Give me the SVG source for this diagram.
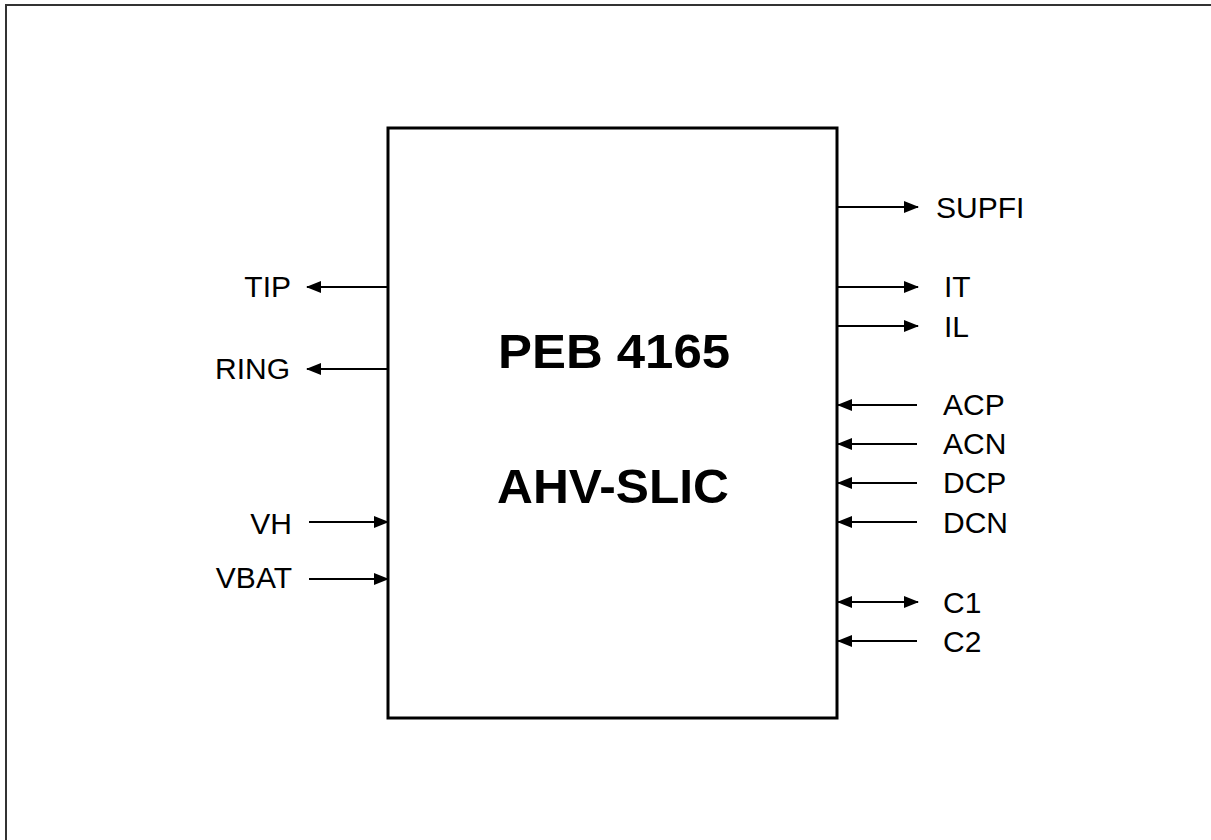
<svg xmlns="http://www.w3.org/2000/svg" width="1211" height="840" viewBox="0 0 1211 840">
<style>
.lbl{font-family:"Liberation Sans",Arial,sans-serif;font-size:30px;fill:#000}
.ttl{font-family:"Liberation Sans",Arial,sans-serif;font-size:48px;font-weight:bold;fill:#000}
.wire{stroke:#000;stroke-width:2;fill:none}
</style>
<defs>
<marker id="ah" markerWidth="15" markerHeight="12" refX="14" refY="6" orient="auto-start-reverse" markerUnits="userSpaceOnUse">
<path d="M0,0 L15,6 L0,12 Z" fill="#000"/>
</marker>
</defs>
<rect x="0" y="0" width="1211" height="840" fill="#fff"/>
<rect x="6" y="5" width="1215" height="850" fill="none" stroke="#333" stroke-width="2"/>
<g id="slic">
<rect x="388" y="128" width="449" height="590" fill="#fff" stroke="#000" stroke-width="3"/>
<text class="ttl" x="614" y="368" text-anchor="middle" textLength="232" lengthAdjust="spacingAndGlyphs">PEB 4165</text>
<text class="ttl" x="613" y="503" text-anchor="middle" textLength="232" lengthAdjust="spacingAndGlyphs">AHV-SLIC</text>
</g>
<g id="connectors">
<line class="wire" x1="388" y1="287" x2="307" y2="287" marker-end="url(#ah)"/>
<line class="wire" x1="388" y1="369" x2="307" y2="369" marker-end="url(#ah)"/>
<line class="wire" x1="309" y1="522" x2="388" y2="522" marker-end="url(#ah)"/>
<line class="wire" x1="309" y1="579" x2="388" y2="579" marker-end="url(#ah)"/>
<line class="wire" x1="838" y1="207" x2="918" y2="207" marker-end="url(#ah)"/>
<line class="wire" x1="838" y1="287" x2="918" y2="287" marker-end="url(#ah)"/>
<line class="wire" x1="838" y1="326" x2="918" y2="326" marker-end="url(#ah)"/>
<line class="wire" x1="917" y1="405" x2="838" y2="405" marker-end="url(#ah)"/>
<line class="wire" x1="917" y1="444" x2="838" y2="444" marker-end="url(#ah)"/>
<line class="wire" x1="917" y1="483" x2="838" y2="483" marker-end="url(#ah)"/>
<line class="wire" x1="917" y1="522" x2="838" y2="522" marker-end="url(#ah)"/>
<line class="wire" x1="838" y1="602" x2="918" y2="602" marker-start="url(#ah)" marker-end="url(#ah)"/>
<line class="wire" x1="917" y1="641" x2="838" y2="641" marker-end="url(#ah)"/>
</g>
<g id="labels">
<text class="lbl" x="291" y="297" text-anchor="end">TIP</text>
<text class="lbl" x="290" y="379" text-anchor="end">RING</text>
<text class="lbl" x="292" y="534" text-anchor="end">VH</text>
<text class="lbl" x="292" y="588" text-anchor="end">VBAT</text>
<text class="lbl" x="936" y="218">SUPFI</text>
<text class="lbl" x="944" y="297">IT</text>
<text class="lbl" x="944" y="337">IL</text>
<text class="lbl" x="943" y="415">ACP</text>
<text class="lbl" x="943" y="454">ACN</text>
<text class="lbl" x="943" y="493">DCP</text>
<text class="lbl" x="943" y="533">DCN</text>
<text class="lbl" x="943" y="613">C1</text>
<text class="lbl" x="943" y="652">C2</text>
</g>
</svg>
